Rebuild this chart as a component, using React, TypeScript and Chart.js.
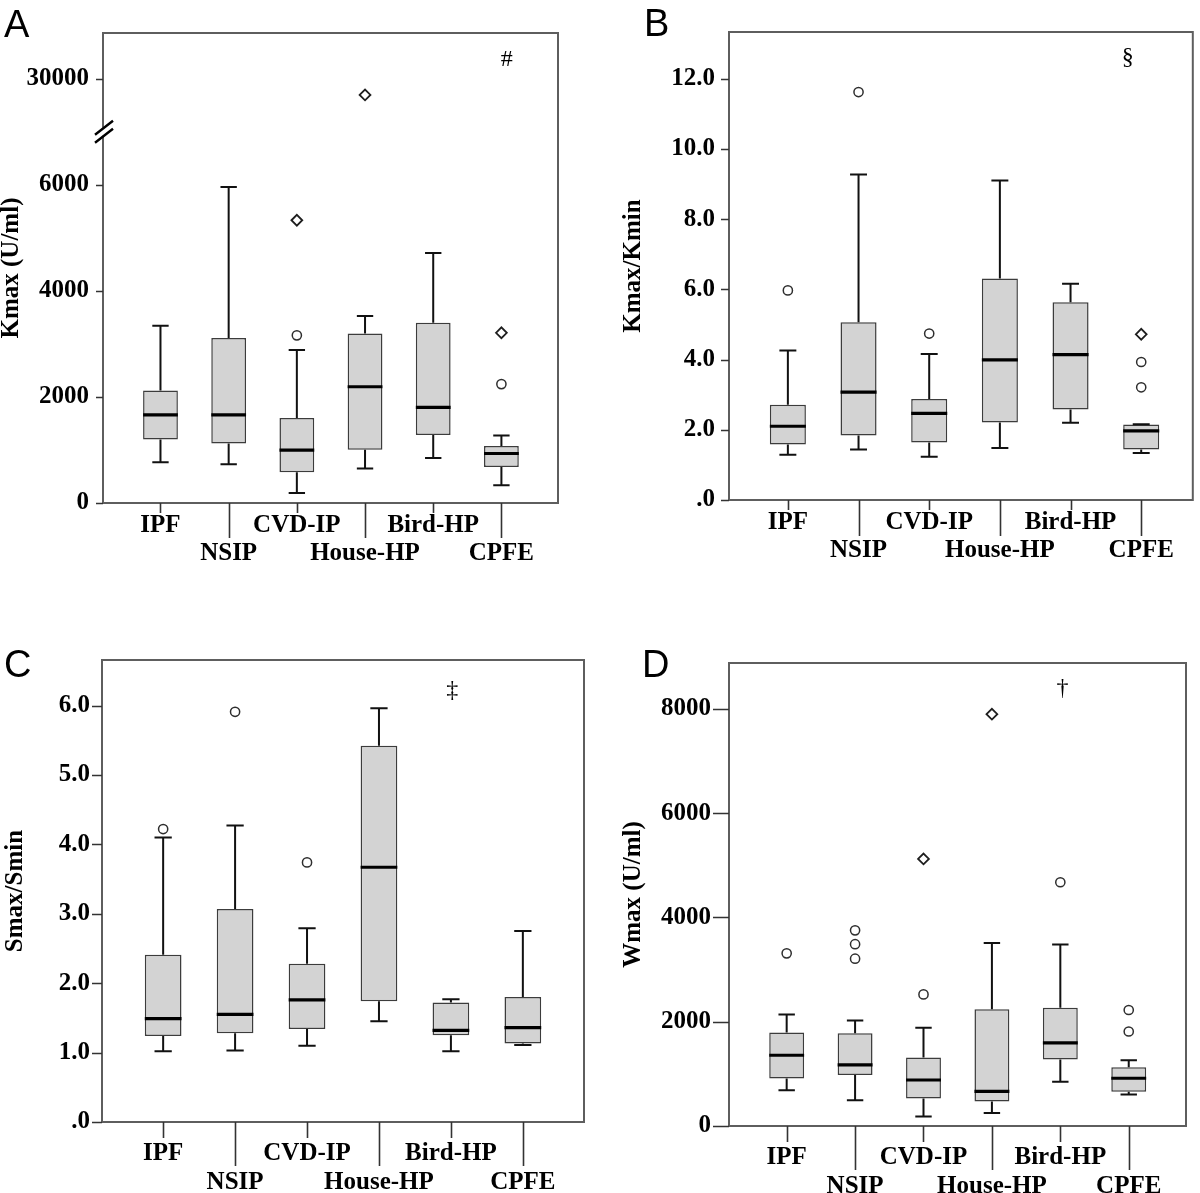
import React, { useEffect, useRef } from "react";
import { Chart, registerables } from "chart.js";

Chart.register(...registerables);

const CATEGORIES = ["IPF", "NSIP", "CVD-IP", "House-HP", "Bird-HP", "CPFE"];

// Panel A: Kmax (U/ml)
const KMAX_LOW = [771, 729, 191, 651, 849, 333];
const KMAX_Q1 = [1196, 1125, 580, 1005, 1281, 679];
const KMAX_MEDIAN = [1663, 1663, 998, 2193, 1804, 934];
const KMAX_Q3 = [2122, 3113, 1606, 3198, 3403, 1075];
const KMAX_HIGH = [3346, 5963, 2887, 3530, 4719, 1274];
const KMAX_CIRCLES = [[], [], [3163], [], [], [2243]];
const KMAX_DIAMONDS = [[], [], [5335], [29700], [], [3212]];
const KMAX_TICKS = [0, 2000, 4000, 6000, 30000];

// Panel B: Kmax/Kmin
const KRATIO_LOW = [1.29, 1.44, 1.23, 1.48, 2.2, 1.34];
const KRATIO_Q1 = [1.58, 1.84, 1.64, 2.21, 2.58, 1.44];
const KRATIO_MEDIAN = [2.1, 3.07, 2.47, 3.99, 4.14, 1.97];
const KRATIO_Q3 = [2.71, 5.06, 2.88, 6.31, 5.63, 2.15];
const KRATIO_HIGH = [4.26, 9.27, 4.16, 9.1, 6.16, 2.16];
const KRATIO_CIRCLES = [[5.97], [11.62], [4.74], [], [], [3.93, 3.21]];
const KRATIO_DIAMONDS = [[], [], [], [], [], [4.72]];
const KRATIO_TICKS = [0, 2, 4, 6, 8, 10, 12];

// Panel C: Smax/Smin
const SRATIO_LOW = [1.02, 1.03, 1.1, 1.45, 1.02, 1.11];
const SRATIO_Q1 = [1.24, 1.28, 1.34, 1.74, 1.25, 1.13];
const SRATIO_MEDIAN = [1.49, 1.55, 1.76, 3.67, 1.32, 1.36];
const SRATIO_Q3 = [2.41, 3.07, 2.28, 5.42, 1.72, 1.8];
const SRATIO_HIGH = [4.1, 4.27, 2.79, 5.96, 1.77, 2.75];
const SRATIO_CIRCLES = [[4.22], [5.91], [3.74], [], [], []];
const SRATIO_DIAMONDS = [[], [], [], [], [], []];
const SRATIO_TICKS = [0, 1, 2, 3, 4, 5, 6];

// Panel D: Wmax (U/ml)
const WMAX_LOW = [685, 495, 183, 251, 848, 604];
const WMAX_Q1 = [909, 977, 529, 468, 1276, 658];
const WMAX_MEDIAN = [1357, 1174, 882, 665, 1594, 916];
const WMAX_Q3 = [1791, 1778, 1316, 2239, 2266, 1126];
const WMAX_HIGH = [2137, 2022, 1886, 3508, 3481, 1262];
const WMAX_CIRCLES = [[3311], [3752, 3487, 3209], [2524], [], [4675], [2225, 1812]];
const WMAX_DIAMONDS = [[], [], [5123], [7898], [], []];
const WMAX_TICKS = [0, 2000, 4000, 6000, 8000];

const SERIF = '"Liberation Serif", "Times New Roman", Times, serif';
const SANS = '"Liberation Sans", Arial, Helvetica, sans-serif';

type Layout = {
  left: number; top: number; width: number; height: number;
  padTop: number; padRight: number; yAxisWidth: number; xAxisHeight: number;
  xMin: number; xMax: number; yMax: number; titlePad: number;
  yTickLen: number; yLabelPad: number; xLabelPad: number; xLineHeight: number;
  xShortTick: number; xLongTick: number; fontSize: number;
};

type PanelDef = {
  key: string;
  letter: string;
  letterPos: { left: number; top: number };
  title: string;
  low: number[]; q1: number[]; median: number[]; q3: number[]; high: number[];
  circles: number[][]; diamonds: number[][];
  ticks: number[];
  tickLabel: (v: number) => string;
  transform: (v: number) => number;
  mark: string; markX: number; markY: number;
  breakAt?: number;
  layout: Layout;
};

const identity = (v: number) => v;
const decimalLabel = (v: number) => (v === 0 ? ".0" : v.toFixed(1));
// Panel A has a broken axis: values above the break are shifted down so that 30000 sits above 6000
const kmaxBreak = (v: number) => (v > 20000 ? v - 22000 : v);

const PANELS: PanelDef[] = [
  {
    key: "A", letter: "A", letterPos: { left: 4, top: 5 },
    title: "Kmax (U/ml)",
    low: KMAX_LOW, q1: KMAX_Q1, median: KMAX_MEDIAN, q3: KMAX_Q3, high: KMAX_HIGH,
    circles: KMAX_CIRCLES, diamonds: KMAX_DIAMONDS,
    ticks: KMAX_TICKS, tickLabel: (v) => String(v), transform: kmaxBreak,
    mark: "#", markX: 5.08, markY: 30360, breakAt: 7006,
    layout: {
      left: 0, top: 0, width: 600, height: 590, padTop: 33, padRight: 42,
      yAxisWidth: 103, xAxisHeight: 87, xMin: -0.843, xMax: 5.83, yMax: 8868,
      titlePad: -1, yTickLen: 7, yLabelPad: 14, xLabelPad: 9, xLineHeight: 28,
      xShortTick: 10, xLongTick: 35, fontSize: 25,
    },
  },
  {
    key: "B", letter: "B", letterPos: { left: 644, top: 4 },
    title: "Kmax/Kmin",
    low: KRATIO_LOW, q1: KRATIO_Q1, median: KRATIO_MEDIAN, q3: KRATIO_Q3, high: KRATIO_HIGH,
    circles: KRATIO_CIRCLES, diamonds: KRATIO_DIAMONDS,
    ticks: KRATIO_TICKS, tickLabel: decimalLabel, transform: identity,
    mark: "§", markX: 4.81, markY: 12.59,
    layout: {
      left: 600, top: 0, width: 600, height: 590, padTop: 32, padRight: 1,
      yAxisWidth: 129, xAxisHeight: 90, xMin: -0.833, xMax: 5.73, yMax: 13.33,
      titlePad: 21.5, yTickLen: 8, yLabelPad: 14, xLabelPad: 9, xLineHeight: 28,
      xShortTick: 10, xLongTick: 36, fontSize: 25,
    },
  },
  {
    key: "C", letter: "C", letterPos: { left: 4, top: 645 },
    title: "Smax/Smin",
    low: SRATIO_LOW, q1: SRATIO_Q1, median: SRATIO_MEDIAN, q3: SRATIO_Q3, high: SRATIO_HIGH,
    circles: SRATIO_CIRCLES, diamonds: SRATIO_DIAMONDS,
    ticks: SRATIO_TICKS, tickLabel: decimalLabel, transform: identity,
    mark: "‡", markX: 4.02, markY: 6.21,
    layout: {
      left: 0, top: 600, width: 600, height: 593, padTop: 60, padRight: 16,
      yAxisWidth: 102, xAxisHeight: 71, xMin: -0.85, xMax: 5.85, yMax: 6.656,
      titlePad: 3.5, yTickLen: 10, yLabelPad: 12, xLabelPad: 17, xLineHeight: 29,
      xShortTick: 16, xLongTick: 44, fontSize: 25,
    },
  },
  {
    key: "D", letter: "D", letterPos: { left: 642, top: 645 },
    title: "Wmax (U/ml)",
    low: WMAX_LOW, q1: WMAX_Q1, median: WMAX_MEDIAN, q3: WMAX_Q3, high: WMAX_HIGH,
    circles: WMAX_CIRCLES, diamonds: WMAX_DIAMONDS,
    ticks: WMAX_TICKS, tickLabel: (v) => String(v), transform: identity,
    mark: "†", markX: 4.03, markY: 8380,
    layout: {
      left: 600, top: 600, width: 600, height: 593, padTop: 63, padRight: 14,
      yAxisWidth: 129, xAxisHeight: 67, xMin: -0.843, xMax: 5.837, yMax: 8880,
      titlePad: 21.5, yTickLen: 16, yLabelPad: 18, xLabelPad: 17, xLineHeight: 29,
      xShortTick: 16, xLongTick: 44, fontSize: 25,
    },
  },
];

const BOX_HALF = 0.255; // matches barPercentage 0.51
const CAP_HALF = 0.12;

function decorPlugin(p: PanelDef) {
  const L = p.layout;
  const tf = p.transform;
  return {
    id: "decor" + p.key,
    afterDatasetsDraw(chart: any) {
      const { ctx } = chart;
      const xs = chart.scales.x;
      const ys = chart.scales.y;
      ctx.save();
      ctx.lineCap = "butt";
      for (let i = 0; i < CATEGORIES.length; i++) {
        const cx = xs.getPixelForValue(i);
        const capL = xs.getPixelForValue(i - CAP_HALF);
        const capR = xs.getPixelForValue(i + CAP_HALF);
        const boxL = xs.getPixelForValue(i - BOX_HALF);
        const boxR = xs.getPixelForValue(i + BOX_HALF);
        const yLow = ys.getPixelForValue(tf(p.low[i]));
        const yQ1 = ys.getPixelForValue(tf(p.q1[i]));
        const yQ3 = ys.getPixelForValue(tf(p.q3[i]));
        const yHigh = ys.getPixelForValue(tf(p.high[i]));
        const yMed = ys.getPixelForValue(tf(p.median[i]));
        ctx.strokeStyle = "#111";
        ctx.lineWidth = 2;
        ctx.beginPath();
        ctx.moveTo(cx, yQ3);
        ctx.lineTo(cx, yHigh);
        ctx.moveTo(capL, yHigh);
        ctx.lineTo(capR, yHigh);
        ctx.moveTo(cx, yQ1);
        ctx.lineTo(cx, yLow);
        ctx.moveTo(capL, yLow);
        ctx.lineTo(capR, yLow);
        ctx.stroke();
        ctx.strokeStyle = "#000";
        ctx.lineWidth = 3.2;
        ctx.beginPath();
        ctx.moveTo(boxL, yMed);
        ctx.lineTo(boxR, yMed);
        ctx.stroke();
      }
      ctx.restore();
    },
    afterDraw(chart: any) {
      const { ctx, chartArea } = chart;
      const xs = chart.scales.x;
      const ys = chart.scales.y;
      const { left, right, top, bottom } = chartArea;
      ctx.save();
      // frame
      ctx.strokeStyle = "#5e5e5e";
      ctx.lineWidth = 2;
      ctx.strokeRect(left, top, right - left, bottom - top);
      // y tick marks
      ctx.strokeStyle = "#333";
      ctx.lineWidth = 1.6;
      ctx.beginPath();
      for (const t of p.ticks) {
        const y = Math.round(ys.getPixelForValue(tf(t))) + 0.5;
        ctx.moveTo(left - L.yTickLen, y);
        ctx.lineTo(left, y);
      }
      ctx.stroke();
      // x tick marks (staggered)
      ctx.beginPath();
      for (let i = 0; i < CATEGORIES.length; i++) {
        const x = Math.round(xs.getPixelForValue(i)) + 0.5;
        ctx.moveTo(x, bottom);
        ctx.lineTo(x, bottom + (i % 2 === 0 ? L.xShortTick : L.xLongTick));
      }
      ctx.stroke();
      // axis break
      if (p.breakAt !== undefined) {
        const yb = ys.getPixelForValue(p.breakAt);
        ctx.fillStyle = "#fff";
        ctx.fillRect(left - 3, yb - 4, 6, 8);
        ctx.strokeStyle = "#000";
        ctx.lineWidth = 2.4;
        ctx.beginPath();
        for (const dy of [-4, 4]) {
          ctx.moveTo(left - 8, yb + dy + 7);
          ctx.lineTo(left + 10, yb + dy - 7);
        }
        ctx.stroke();
      }
      // significance mark
      ctx.fillStyle = "#000";
      ctx.font = `24px ${SERIF}`;
      ctx.textAlign = "center";
      ctx.textBaseline = "middle";
      ctx.fillText(p.mark, xs.getPixelForValue(p.markX), ys.getPixelForValue(tf(p.markY)));
      ctx.restore();
    },
  };
}

function buildConfig(p: PanelDef): any {
  const L = p.layout;
  const tf = p.transform;
  const boxes = CATEGORIES.map((_, i) => ({ x: i, y: [tf(p.q1[i]), tf(p.q3[i])] }));
  const circles = p.circles.flatMap((vals, i) => vals.map((v) => ({ x: i, y: tf(v) })));
  const diamonds = p.diamonds.flatMap((vals, i) => vals.map((v) => ({ x: i, y: tf(v) })));
  const tickFont = { family: SERIF, size: L.fontSize, weight: "bold" as const };
  return {
    type: "bar",
    data: {
      datasets: [
        {
          type: "bar",
          data: boxes,
          backgroundColor: "#d3d3d3",
          borderColor: "#3c3c3c",
          borderWidth: 1.5,
          borderSkipped: false,
          barPercentage: BOX_HALF * 2,
          categoryPercentage: 1,
        },
        {
          type: "scatter",
          data: circles,
          pointStyle: "circle",
          pointRadius: 4.6,
          borderColor: "#2e2e2e",
          backgroundColor: "rgba(255,255,255,0)",
          borderWidth: 1.5,
        },
        {
          type: "scatter",
          data: diamonds,
          pointStyle: "rectRot",
          pointRadius: 5.4,
          borderColor: "#1e1e1e",
          backgroundColor: "rgba(255,255,255,0)",
          borderWidth: 1.8,
        },
      ],
    },
    options: {
      responsive: false,
      animation: false,
      events: [],
      layout: { padding: { top: L.padTop, right: L.padRight, left: 0, bottom: 0 } },
      plugins: { legend: { display: false }, tooltip: { enabled: false } },
      scales: {
        x: {
          type: "linear",
          min: L.xMin,
          max: L.xMax,
          offset: false,
          grid: { display: false, drawTicks: false },
          border: { display: false },
          afterBuildTicks: (s: any) => {
            s.ticks = CATEGORIES.map((_, i) => ({ value: i }));
          },
          afterFit: (s: any) => {
            s.height = L.xAxisHeight;
          },
          ticks: {
            autoSkip: false,
            maxRotation: 0,
            minRotation: 0,
            padding: L.xLabelPad,
            color: "#000",
            font: { ...tickFont, lineHeight: L.xLineHeight / L.fontSize },
            callback: (_v: any, idx: number) =>
              idx % 2 === 0 ? [CATEGORIES[idx]] : ["", CATEGORIES[idx]],
          },
        },
        y: {
          type: "linear",
          min: 0,
          max: L.yMax,
          grid: { display: false, drawTicks: false },
          border: { display: false },
          afterBuildTicks: (s: any) => {
            s.ticks = p.ticks.map((t) => ({ value: tf(t) }));
          },
          afterFit: (s: any) => {
            s.width = L.yAxisWidth;
          },
          ticks: {
            autoSkip: false,
            padding: L.yLabelPad,
            color: "#000",
            font: tickFont,
            callback: (_v: any, idx: number) => p.tickLabel(p.ticks[idx]),
          },
          title: {
            display: true,
            text: p.title,
            color: "#000",
            font: { family: SERIF, size: L.fontSize, weight: "bold", lineHeight: 1 },
            padding: { top: L.titlePad, bottom: 0 },
          },
        },
      },
    },
    plugins: [decorPlugin(p)],
  };
}

function Panel({ def }: { def: PanelDef }) {
  const ref = useRef<HTMLCanvasElement>(null);
  useEffect(() => {
    const chart = new Chart(ref.current as HTMLCanvasElement, buildConfig(def));
    return () => chart.destroy();
  }, [def]);
  const L = def.layout;
  return (
    <>
      <canvas
        ref={ref}
        width={L.width}
        height={L.height}
        style={{ position: "absolute", left: L.left, top: L.top, width: L.width, height: L.height }}
      />
      <div
        style={{
          position: "absolute",
          left: def.letterPos.left,
          top: def.letterPos.top,
          fontFamily: SANS,
          fontSize: 38,
          lineHeight: "38px",
          color: "#000",
        }}
      >
        {def.letter}
      </div>
    </>
  );
}

export default function App() {
  return (
    <div
      style={{
        position: "absolute",
        left: 0,
        top: 0,
        width: 1200,
        height: 1193,
        background: "#fff",
        overflow: "hidden",
      }}
    >
      {PANELS.map((p) => (
        <Panel key={p.key} def={p} />
      ))}
    </div>
  );
}
